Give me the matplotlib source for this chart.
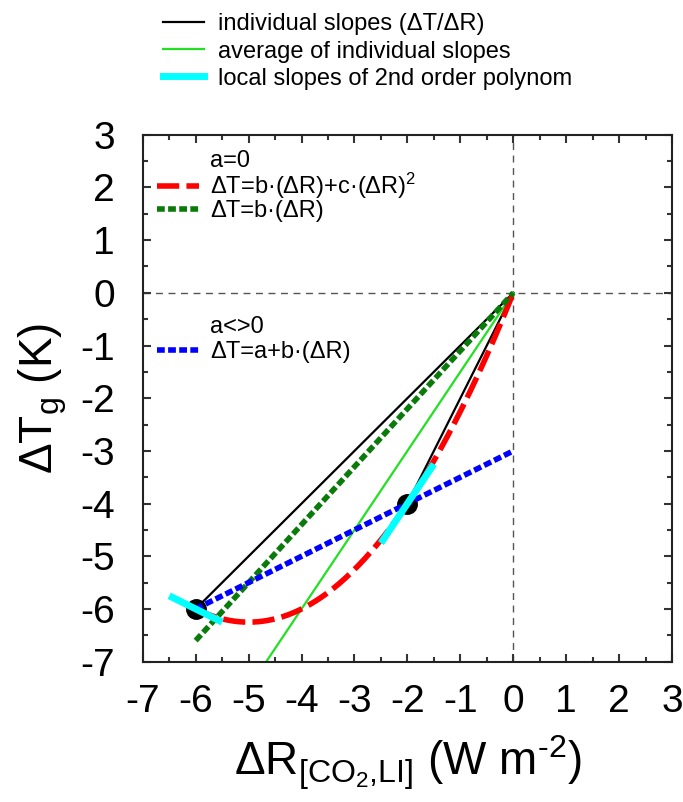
import numpy as np
import matplotlib
matplotlib.use("Agg")
import matplotlib.pyplot as plt
from matplotlib.lines import Line2D

plt.rcParams['font.family'] = ['Liberation Sans', 'DejaVu Sans']
plt.rcParams['mathtext.fontset'] = 'custom'
plt.rcParams['mathtext.rm'] = 'Liberation Sans'
plt.rcParams['mathtext.it'] = 'Liberation Sans:italic'
plt.rcParams['mathtext.bf'] = 'Liberation Sans:bold'
plt.rcParams['axes.unicode_minus'] = False

# data points (ΔR, ΔT)
dR_points = np.array([-6.0, -2.0])
dT_points = np.array([-6.0, -4.0])

x_ticks = [-7, -6, -5, -4, -3, -2, -1, 0, 1, 2, 3]
y_ticks = [-7, -6, -5, -4, -3, -2, -1, 0, 1, 2, 3]

# fits derived from the data points
# a=0 : ΔT = b ΔR + c ΔR^2  (exact through both points)
A = np.column_stack([dR_points, dR_points**2])
b_q, c_q = np.linalg.solve(A, dT_points)
# a=0 : ΔT = b ΔR (least squares)
b_lin0 = np.sum(dR_points * dT_points) / np.sum(dR_points**2)
# a<>0 : ΔT = a + b ΔR
b_lin, a_lin = np.polyfit(dR_points, dT_points, 1)
# average of individual slopes
avg_slope = np.mean(dT_points / dR_points)

fig = plt.figure(figsize=(6.83, 8.02), dpi=100)
ax = fig.add_axes([0.209, 0.175, 0.775, 0.657])

ax.axhline(0, color='#555555', lw=1.0, ls=(0, (5, 4)), zorder=1)
ax.axvline(0, color='#555555', lw=1.0, ls=(0, (5, 4)), zorder=1)

# individual slopes
for r, t in zip(dR_points, dT_points):
    ax.plot([r, 0], [t, 0], color='black', lw=1.6, zorder=2)

# average slope
xa = np.array([-7.0, 0.0])
ax.plot(xa, avg_slope * xa, color='#22e022', lw=1.6, zorder=2)

# points
ax.plot(dR_points, dT_points, 'o', color='black', ms=14, zorder=3)

xr = np.linspace(dR_points.min(), 0, 200)
ax.plot(xr, b_q * xr + c_q * xr**2, color='#ff0000', lw=4, ls=(0, (4, 1.3)), zorder=4)
ax.plot(xr, b_lin0 * xr, color='#0a7a0a', lw=4, ls=(0, (1.4, 0.6)), zorder=4)
ax.plot(xr, a_lin + b_lin * xr, color='#0000ff', lw=4, ls=(0, (1.4, 0.6)), zorder=5)

# local slopes of polynomial
for r, t in zip(dR_points, dT_points):
    s = b_q + 2 * c_q * r
    xx = np.array([r - 0.5, r + 0.5])
    ax.plot(xx, t + s * (xx - r), color='#00ffff', lw=5, zorder=6, solid_capstyle='butt')

ax.set_xlim(-7, 3)
ax.set_ylim(-7, 3)
ax.set_xticks(x_ticks)
ax.set_yticks(y_ticks)
ax.set_xticks(np.arange(-6.5, 3, 1.0), minor=True)
ax.set_yticks(np.arange(-6.5, 3, 1.0), minor=True)
ax.tick_params(which='both', direction='in', top=True, right=True, labelsize=28,
               width=1.5, color='#333333')
ax.tick_params(which='major', length=6)
ax.tick_params(which='minor', length=3.5)
ax.tick_params(axis='x', which='major', pad=16)
ax.tick_params(axis='y', which='major', pad=20)
for sp in ax.spines.values():
    sp.set_linewidth(1.5)
    sp.set_color('#222222')

ax.set_xlabel(r'ΔR$_{\mathrm{[CO}_{2}\mathrm{{,}LI]}}$ (W m$^{\text{-2}}$)', fontsize=33, labelpad=10)
ax.set_ylabel(r'ΔT$_{\mathrm{g}}$ (K)', fontsize=33, labelpad=8)

# legends
top_handles = [Line2D([], [], color='black', lw=1.6),
               Line2D([], [], color='#22e022', lw=1.6),
               Line2D([], [], color='#00ffff', lw=5)]
top_labels = ['individual slopes (ΔT/ΔR)', 'average of individual slopes',
              'local slopes of 2nd order polynom']
leg1 = fig.legend(top_handles, top_labels, loc='upper left', bbox_to_anchor=(0.214, 1.004),
                  frameon=False, fontsize=17, handlelength=1.75, handletextpad=0.6,
                  labelspacing=0.22, borderaxespad=0.3)

h2 = [Line2D([], [], color='none'),
      Line2D([], [], color='#ff0000', lw=4, ls=(0, (4, 1.3))),
      Line2D([], [], color='#0a7a0a', lw=4, ls=(0, (1.4, 0.6)))]
l2 = ['a=0', r'ΔT=b·(ΔR)+c·(ΔR)$^{\mathrm{2}}$', 'ΔT=b·(ΔR)']
leg2 = ax.legend(h2, l2, loc='upper left', bbox_to_anchor=(0.0, 0.998), frameon=False,
                 fontsize=17, handlelength=1.8, handletextpad=0.45, labelspacing=-0.05,
                 borderaxespad=0.2)
ax.add_artist(leg2)

h3 = [Line2D([], [], color='none'),
      Line2D([], [], color='#0000ff', lw=4, ls=(0, (1.4, 0.6)))]
l3 = ['a<>0', 'ΔT=a+b·(ΔR)']
leg3 = ax.legend(h3, l3, loc='upper left', bbox_to_anchor=(0.0, 0.683), frameon=False,
                 fontsize=17, handlelength=1.8, handletextpad=0.45, labelspacing=0.15,
                 borderaxespad=0.2)

fig.savefig('out.png', dpi=100)
